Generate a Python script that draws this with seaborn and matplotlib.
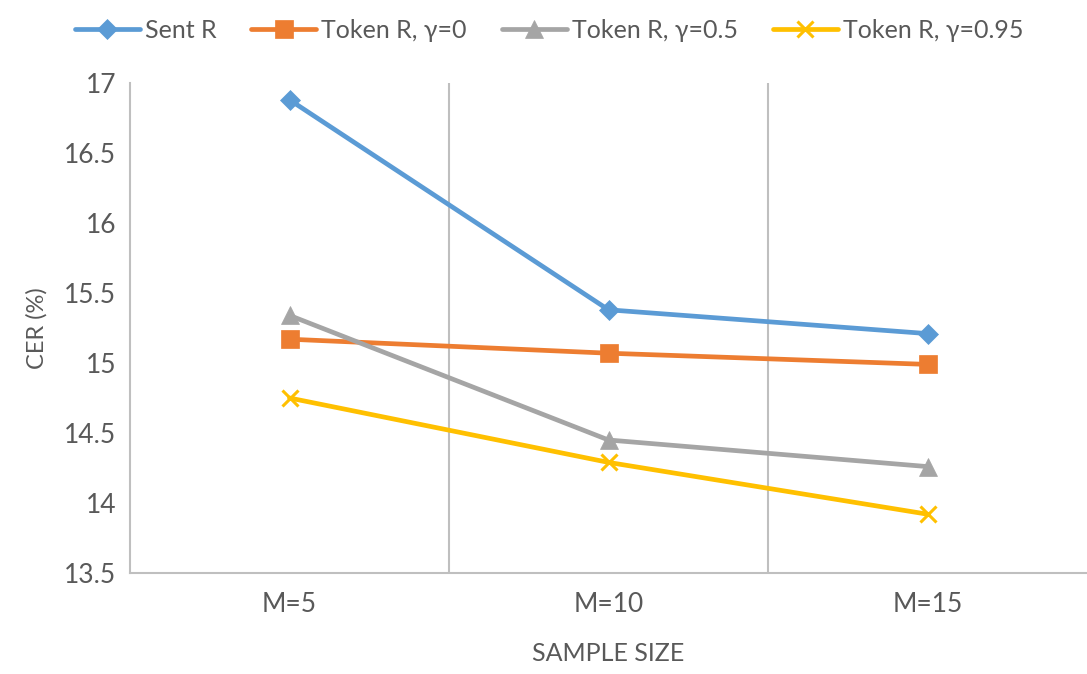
import matplotlib
matplotlib.use("Agg")
import matplotlib.pyplot as plt
import seaborn as sns
import pandas as pd

# Sample sizes and CER (%) per reward type
sample_sizes = ["M=5", "M=10", "M=15"]
sent_r = [16.88, 15.38, 15.21]
token_g0 = [15.17, 15.07, 14.99]
token_g05 = [15.34, 14.45, 14.26]
token_g095 = [14.75, 14.29, 13.92]

series_names = ["Sent R", "Token R, γ=0", "Token R, γ=0.5", "Token R, γ=0.95"]
series_values = [sent_r, token_g0, token_g05, token_g095]
colors = ["#5B9BD5", "#ED7D31", "#A5A5A5", "#FFC000"]
markers = ["D", "s", "^", "x"]
msizes = [10.5, 12.5, 12.5, 12]

rows = []
for name, vals in zip(series_names, series_values):
    for i, v in enumerate(vals):
        rows.append({"pos": i, "size": sample_sizes[i], "series": name, "cer": v})
df = pd.DataFrame(rows)

sns.set_theme(style="white")
plt.rcParams["font.family"] = ["Lato", "DejaVu Sans"]

fig = plt.figure(figsize=(10.87, 6.74), dpi=100)
ax = fig.add_axes([130 / 1087, 101 / 674, 957 / 1087, 490 / 674])

for name, col, mk, ms in zip(series_names, colors, markers, msizes):
    sub = df[df["series"] == name]
    sns.lineplot(data=sub, x="pos", y="cer", ax=ax, color=col, marker=mk,
                 markersize=ms, linewidth=3.4, label=name,
                 markeredgecolor=col, markeredgewidth=2.2 if mk == "x" else 0.5)

ax.set_xlim(-0.5, 2.5)
ax.set_ylim(13.5, 17)
ax.set_yticks([13.5, 14, 14.5, 15, 15.5, 16, 16.5, 17])
ax.set_yticklabels(["13.5", "14", "14.5", "15", "15.5", "16", "16.5", "17"])
ax.set_xticks(range(len(sample_sizes)))
ax.set_xticklabels(sample_sizes)

# Category separators
for b in [0.5, 1.5]:
    ax.axvline(b, color="#BFBFBF", linewidth=1.5, zorder=0)

for side in ["top", "right"]:
    ax.spines[side].set_visible(False)
for side in ["left", "bottom"]:
    ax.spines[side].set_color("#BFBFBF")
    ax.spines[side].set_linewidth(1.5)

ax.tick_params(axis="y", length=0, labelsize=19, colors="#595959", pad=10)
ax.tick_params(axis="x", length=0, labelsize=19, colors="#595959", pad=14)
ax.set_xlabel("SAMPLE SIZE", fontsize=18, color="#595959", labelpad=18)
ax.set_ylabel("CER (%)", fontsize=17, color="#595959", labelpad=12)

ax.legend(loc="upper center", bbox_to_anchor=(549 / 1087, 1.005), bbox_transform=fig.transFigure,
          ncol=4, frameon=False, fontsize=18, handlelength=2.6, columnspacing=1.4,
          handletextpad=0.2, labelcolor="#595959")

fig.savefig("out.png", dpi=100)
